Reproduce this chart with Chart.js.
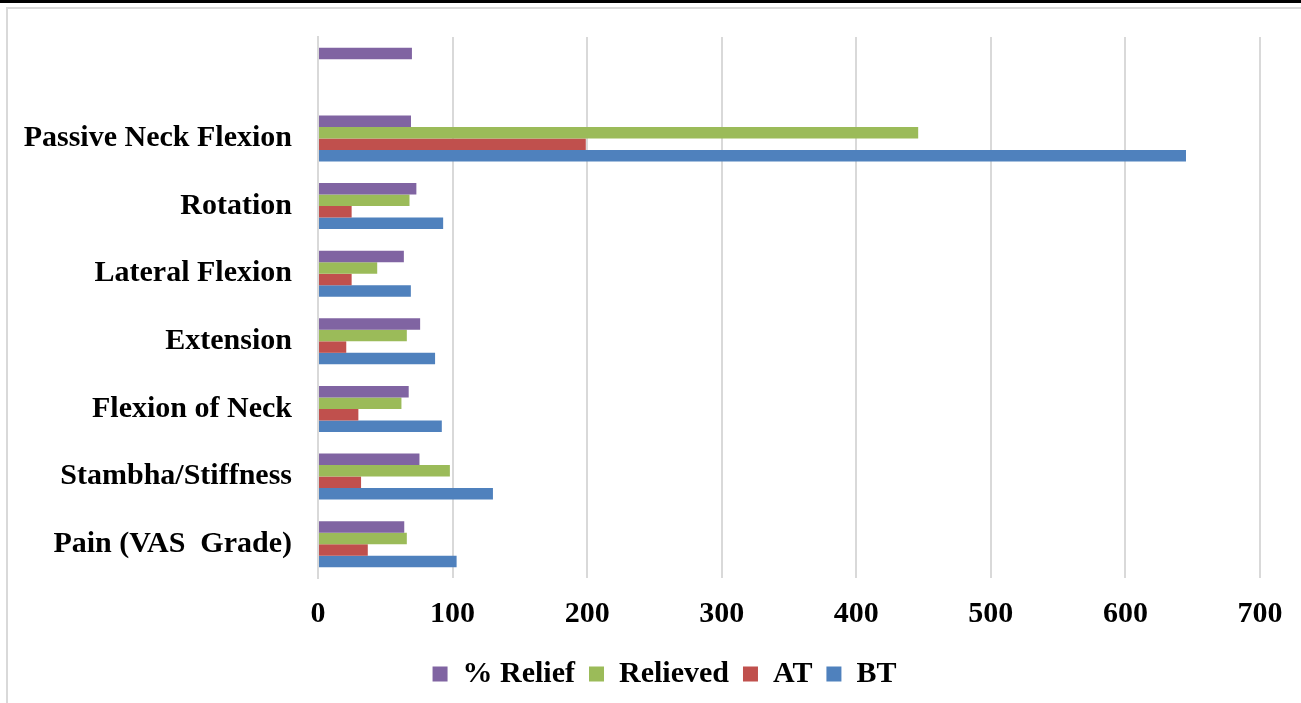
<!DOCTYPE html>
<html>
<head>
<meta charset="utf-8">
<title>Assessment parameters – BT, AT, Relieved, % Relief</title>
<script src="https://cdn.jsdelivr.net/npm/chart.js@4/dist/chart.umd.min.js"></script>
<style>
  html, body { margin: 0; padding: 0; background: #fff; overflow: hidden; }
  #wrap { position: relative; width: 1301px; height: 703px; }
  #topRule { position: absolute; left: 0; top: 0; width: 1301px; height: 3px; background: #000; }
  #frame { position: absolute; left: 6px; top: 7px; width: 1400px; height: 800px;
           border-left: 2px solid #d9d9d9; border-top: 2px solid #d9d9d9; }
  #chart { position: absolute; left: 0; top: 0; }
</style>
</head>
<body>
<div id="wrap">
  <div id="topRule"></div>
  <div id="frame"></div>
  <canvas id="chart" width="1301" height="703"></canvas>
</div>
<script>
// Parameters, listed top to bottom as they appear on the category axis
const categories = ['', 'Passive Neck Flexion', 'Rotation', 'Lateral Flexion', 'Extension',
                    'Flexion of Neck', 'Stambha/Stiffness', 'Pain (VAS  Grade)'];

// Series values per parameter
const reliefPct = [69.8, 69.1, 73.1, 63.8, 75.9, 67.4, 75.4, 64.1];
const relieved  = [null, 446, 68, 44, 66, 62, 98, 66];
const afterTx   = [null, 199, 25, 25, 21, 30, 32, 37];
const beforeTx  = [null, 645, 93, 69, 87, 92, 130, 103];

// Value axis ticks
const valueTicks = [0, 100, 200, 300, 400, 500, 600, 700];

const seriesNames = ['% Relief', 'Relieved', 'AT', 'BT'];
const seriesColors = ['#8064A2', '#9BBB59', '#C0504D', '#4F81BD'];
const seriesData = [reliefPct, relieved, afterTx, beforeTx];

const FONT_FAMILY = '"Liberation Serif", "DejaVu Serif", serif';
const FONT_SIZE = 30;

const datasets = seriesNames.map((name, i) => ({
  label: name,
  data: seriesData[i],
  backgroundColor: seriesColors[i],
  borderColor: seriesColors[i],
  borderWidth: 0,
  categoryPercentage: 0.68,
  barPercentage: 1.0
}));

// Centre the legend row on the whole canvas rather than on the padded layout box
const centreLegend = {
  id: 'centreLegend',
  afterUpdate(chart) {
    const legend = chart.legend;
    if (!legend) return;
    const dx = chart.width / 2 + 14 - (legend.left + legend.right) / 2;
    legend.left += dx;
    legend.right += dx;
    (legend.legendHitBoxes || []).forEach(h => { h.left += dx; });
  }
};

new Chart(document.getElementById('chart'), {
  type: 'bar',
  data: { labels: categories, datasets },
  plugins: [centreLegend],
  options: {
    indexAxis: 'y',
    responsive: false,
    animation: false,
    layout: { padding: { left: 12, right: 41, top: 37, bottom: 4 } },
    plugins: {
      legend: {
        position: 'bottom',
        labels: {
          color: '#000',
          font: { family: FONT_FAMILY, size: FONT_SIZE, weight: 'bold' },
          boxWidth: 15,
          boxHeight: 15,
          padding: 14
        }
      },
      tooltip: { enabled: false }
    },
    scales: {
      x: {
        min: 0,
        max: 700,
        afterBuildTicks: (scale) => { scale.ticks = valueTicks.map(v => ({ value: v })); },
        afterFit: (scale) => { scale.height = 67; },
        grid: { color: '#d9d9d9', lineWidth: 2, drawTicks: false },
        border: { display: false },
        ticks: {
          color: '#000',
          padding: 18,
          font: { family: FONT_FAMILY, size: FONT_SIZE, weight: 'bold' }
        }
      },
      y: {
        afterFit: (scale) => {
          scale.width = 306;
          scale.paddingTop = 0;
          scale.paddingBottom = 0;
        },
        grid: { display: false, drawTicks: false },
        border: { display: true, color: '#d9d9d9', width: 2 },
        ticks: {
          color: '#000',
          padding: 26,
          autoSkip: false,
          font: { family: FONT_FAMILY, size: FONT_SIZE, weight: 'bold' }
        }
      }
    }
  }
});
</script>
</body>
</html>
